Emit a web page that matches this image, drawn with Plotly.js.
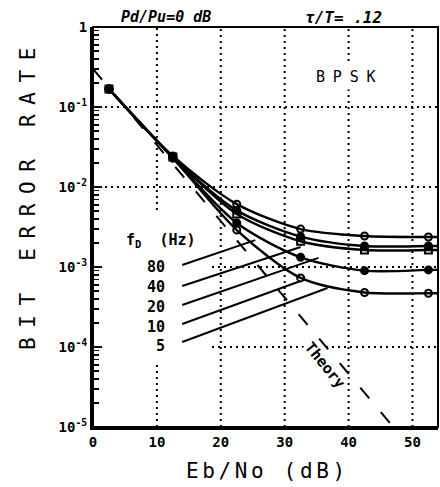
<!DOCTYPE html>
<html>
<head>
<meta charset="utf-8">
<script src="https://cdn.plot.ly/plotly-3.0.1.min.js"></script>
<style>html,body{margin:0;padding:0;background:#fff;}#chart{width:440px;height:487px;}</style>
</head>
<body>
<div id="chart"></div>
<script>
// Eb/No (dB) at measured points
const ebno = [2.5, 12.5, 22.5, 32.5, 42.5, 52.5];
// line continues to right frame edge
const ebnoLine = [2.5, 12.5, 22.5, 32.5, 42.5, 52.5, 54];

// Doppler frequency labels (Hz)
const fdLabels = ['80', '40', '20', '10', '5'];

// Bit error rate per Doppler frequency (last value = continuation to frame edge)
const ber80 = [0.168, 0.0244, 6.1e-3, 2.98e-3, 2.44e-3, 2.37e-3, 2.37e-3];
const ber40 = [0.168, 0.0237, 5.1e-3, 2.4e-3, 1.83e-3, 1.83e-3, 1.83e-3];
const ber20 = [0.168, 0.0237, 4.6e-3, 2.1e-3, 1.63e-3, 1.63e-3, 1.63e-3];
const ber10 = [0.168, 0.0230, 3.55e-3, 1.32e-3, 9.0e-4, 9.2e-4, 9.2e-4];
const ber5  = [0.168, 0.0230, 2.9e-3, 7.3e-4, 4.8e-4, 4.7e-4, 4.7e-4];

// Theory curve
const theoryX = [0, 10, 20, 30, 40, 47];
const theoryY = [0.30, 0.0336, 3.72e-3, 4.15e-4, 4.6e-5, 1.0e-5];

// Pointer lines from labels to curves: [x0, x1], [y0, y1]
const ptrX = [[13.96, 25.4], [13.96, 32.5], [13.96, 35.3], [13.96, 32.5], [13.96, 36.7]];
const ptrY = [[1.06e-3, 2.17e-3], [5.79e-4, 1.78e-3], [3.35e-4, 1.30e-3], [1.94e-4, 6.68e-4], [1.155e-4, 5.46e-4]];
// Label anchor values (BER) for each Doppler label
const labelY = [1.0e-3, 5.62e-4, 3.16e-4, 1.78e-4, 1.02e-4];

// Axis ticks
const xTicks = [0, 10, 20, 30, 40, 50];
const yTickVals = [1e-5, 1e-4, 1e-3, 1e-2, 1e-1, 1];
const yTickText = ['10<sup>-5</sup>', '10<sup>-4</sup>', '10<sup>-3</sup>', '10<sup>-2</sup>', '10<sup>-1</sup>', '1'];

const series = [ber80, ber40, ber20, ber10, ber5];
const symbols = ['circle-open', 'circle', 'square-open', 'circle', 'circle-open'];

const minorVals = [];
for (let d = -5; d < 0; d++) for (let k = 2; k <= 9; k++) minorVals.push(k * Math.pow(10, d));

const mono = 'DejaVu Sans Mono, Liberation Mono, monospace';
const traces = [];

traces.push({
  x: theoryX, y: theoryY, mode: 'lines', type: 'scatter',
  line: {color: '#000', width: 2, dash: '14px,18px'}, hoverinfo: 'skip'
});

series.forEach((s, i) => {
  traces.push({
    x: ebnoLine, y: s, mode: 'lines', type: 'scatter',
    line: {color: '#000', width: 2.4, shape: 'spline', smoothing: 0.8}, hoverinfo: 'skip'
  });
  traces.push({
    x: ebno, y: s.slice(0, ebno.length), mode: 'markers', type: 'scatter',
    marker: {symbol: symbols[i], size: 7, color: '#000', line: {color: '#000', width: 2}}, hoverinfo: 'skip'
  });
});

ptrX.forEach((px, i) => {
  traces.push({
    x: px, y: ptrY[i], mode: 'lines', type: 'scatter',
    line: {color: '#000', width: 2}, hoverinfo: 'skip'
  });
});

// helpers for placing text at pixel-like positions (plot area: x 93..438, y 27..427)
const PX = p => (p - 93) / 345;
const PY = p => (427 - p) / 400;
const gap = n => '<span style="font-size:' + n + 'px"> </span>';
const spaced = (s, n) => s.split('').join(gap(n));

const annotations = [];
fdLabels.forEach((t, i) => {
  annotations.push({
    x: 11.6, y: Math.log10(labelY[i]), xref: 'x', yref: 'y', text: t, showarrow: false,
    xanchor: 'right', yanchor: 'middle', font: {family: mono, size: 15, color: '#000', weight: 'bold'}
  });
});
annotations.push({
  x: PX(124), y: PY(240), xref: 'paper', yref: 'paper', xanchor: 'left', yanchor: 'middle',
  text: 'f<sub>D</sub>  (Hz)', showarrow: false,
  font: {family: mono, size: 15, color: '#000', weight: 'bold'}
});
annotations.push({
  x: PX(346), y: PY(77), xref: 'paper', yref: 'paper', xanchor: 'center', yanchor: 'middle',
  text: spaced('BPSK', 13), showarrow: false, bgcolor: '#fff', borderpad: 3,
  font: {family: mono, size: 15, color: '#000'}
});
annotations.push({
  x: PX(325), y: PY(365), xref: 'paper', yref: 'paper', xanchor: 'center', yanchor: 'middle',
  text: 'Theory', showarrow: false, textangle: 51, bgcolor: '#fff', borderpad: 0,
  font: {family: mono, size: 15, color: '#000', weight: 'bold'}
});
annotations.push({
  x: PX(166), y: PY(17), xref: 'paper', yref: 'paper', xanchor: 'center', yanchor: 'middle',
  text: '<i>Pd/Pu=0 dB</i>', showarrow: false,
  font: {family: mono, size: 15, color: '#000', weight: 'bold'}
});
annotations.push({
  x: PX(343), y: PY(17), xref: 'paper', yref: 'paper', xanchor: 'center', yanchor: 'middle',
  text: '<i>τ/T= .12</i>', showarrow: false,
  font: {family: mono, size: 16, color: '#000', weight: 'bold'}
});
// y-axis title placed to match the reference (off-centre along the axis)
annotations.push({
  x: PX(28), y: PY(199), xref: 'paper', yref: 'paper', xanchor: 'center', yanchor: 'middle',
  textangle: -90, showarrow: false,
  text: spaced('BIT ERROR RATE', 16),
  font: {family: mono, size: 21, color: '#000'}
});

// dotted grid drawn as shapes so it can break around the labels as in the reference
const dot = {color: '#000', width: 2, dash: '2px,4px'};
const shapes = [];
const decPaper = d => (d + 5) / 5;   // decade exponent -> paper y on the 1e-5..1 log axis
[20, 30, 40, 50].forEach(v => shapes.push({type: 'line', layer: 'below', xref: 'x', yref: 'paper', x0: v, x1: v, y0: 0, y1: 1, line: dot}));
shapes.push({type: 'line', layer: 'below', xref: 'x', yref: 'paper', x0: 10, x1: 10, y0: PY(210), y1: 1, line: dot});
shapes.push({type: 'line', layer: 'below', xref: 'x', yref: 'paper', x0: 10, x1: 10, y0: 0, y1: PY(365), line: dot});
[-1, -2].forEach(d => shapes.push({type: 'line', layer: 'below', xref: 'paper', yref: 'paper', x0: 0, x1: 1, y0: decPaper(d), y1: decPaper(d), line: dot}));
[-3, -4].forEach(d => shapes.push({type: 'line', layer: 'below', xref: 'paper', yref: 'paper', x0: PX(212), x1: 1, y0: decPaper(d), y1: decPaper(d), line: dot}));
shapes.push({type: 'rect', xref: 'paper', yref: 'paper', x0: 0, x1: 1, y0: 0, y1: 1,
             line: {color: '#000', width: 2}, fillcolor: 'rgba(0,0,0,0)'});

const layout = {
  width: 440, height: 487,
  margin: {l: 93, r: 2, t: 27, b: 60},
  paper_bgcolor: '#fff', plot_bgcolor: '#fff',
  showlegend: false,
  xaxis: {
    range: [0, 54], tickvals: xTicks, ticks: '', showline: true, linecolor: '#000', linewidth: 3,
    showgrid: false, zeroline: false,
    tickfont: {family: mono, size: 14, color: '#000', weight: 'bold'},
    title: {text: spaced('Eb/No (dB)', 6), font: {family: mono, size: 21, color: '#000'}, standoff: 15}
  },
  yaxis: {
    type: 'log', range: [-5, 0], tickmode: 'array', tickvals: yTickVals, ticktext: yTickText,
    ticks: 'inside', ticklen: 9, tickwidth: 2.5, tickcolor: '#000',
    minor: {tickmode: 'array', tickvals: minorVals, ticks: 'inside', ticklen: 6, tickwidth: 1.5, tickcolor: '#000', showgrid: false},
    showline: true, linecolor: '#000', linewidth: 3,
    showgrid: false, zeroline: false,
    tickfont: {family: mono, size: 14, color: '#000', weight: 'bold'},
    title: {text: ''}
  },
  shapes: shapes,
  annotations: annotations
};

Plotly.newPlot('chart', traces, layout, {staticPlot: true, displayModeBar: false});
</script>
</body>
</html>
